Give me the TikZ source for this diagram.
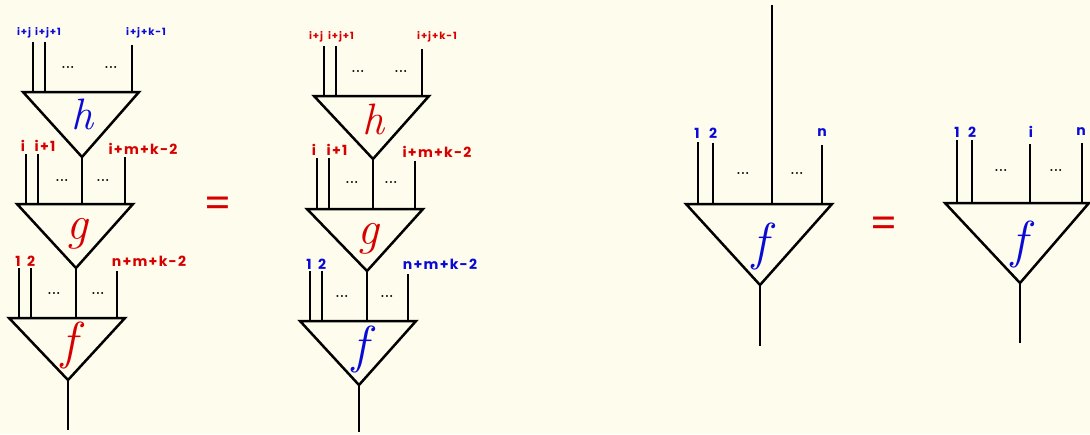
\documentclass[tikz,border=0pt]{standalone}
\usepackage{fontspec}
\newfontfamily\labfont{Poppins}[LetterSpace=9]
\definecolor{paper}{RGB}{254,252,236}
\definecolor{ink}{RGB}{0,0,0}
\definecolor{lblue}{RGB}{10,10,215}
\definecolor{lred}{RGB}{215,0,0}
\tikzset{
  edge/.style={draw=ink, line width=2.5pt, line join=miter},
  wire/.style={draw=ink, line width=2.2pt},
  lab/.style={inner sep=0pt, font=\labfont\bfseries\fontsize{14}{14}\selectfont},
  slab/.style={inner sep=0pt, font=\labfont\bfseries\fontsize{10}{10}\selectfont},
  dots/.style={inner sep=0pt, font=\bfseries\fontsize{14}{14}\selectfont},
  fname/.style={inner sep=0pt, font=\itshape\fontsize{44}{44}\selectfont},
  bigf/.style={fname, font=\itshape\fontsize{52}{52}\selectfont},
  bigg/.style={fname, font=\itshape\fontsize{48}{48}\selectfont},
  eqsign/.style={inner sep=0pt, text=lred, font=\labfont\fontsize{40}{40}\selectfont},
}
% triangle pointing down: name, left x, right x, top y, apex x, apex y
\newcommand{\mtri}[6]{%
  \coordinate (#1L) at (#2,#4);
  \coordinate (#1R) at (#3,#4);
  \coordinate (#1A) at (#5,#6);
  \path[edge] (#1L) -- (#1R) -- (#1A) -- cycle;
}
% wire: name, x, top y, bottom y
\newcommand{\mwire}[4]{%
  \coordinate (#1t) at (#2,#3);
  \coordinate (#1b) at (#2,#4);
  \path[wire] (#1t) -- (#1b);
}
\begin{document}
\begin{tikzpicture}[x=1pt,y=-1pt]
\path[fill=paper] (0,0) rectangle (1090,434);
\useasboundingbox (0,0) rectangle (1090,434);

% ---------- left-hand side: h into g into f ----------
\mtri{ah}{23}{139}{92}{82}{157}
\mtri{ag}{17}{133}{204}{76}{268}
\mtri{af}{9}{125}{318}{68}{380}
\mwire{ah1}{33}{42}{92}
\mwire{ah2}{45}{42}{92}
\mwire{ah3}{132}{45}{92}
\path[wire] (ahA) -- (82,204) coordinate (ag3b);
\mwire{ag1}{26}{154}{204}
\mwire{ag2}{38}{154}{204}
\mwire{ag4}{125}{157}{204}
\path[wire] (agA) -- (76,318) coordinate (af3b);
\mwire{af1}{19}{268}{318}
\mwire{af2}{31}{268}{318}
\mwire{af4}{117}{271}{318}
\coordinate (aout) at (68,430);
\path[wire] (afA) -- (aout);

\node[fname, text=lblue] (ahn) at (82,114) {h};
\node[bigg, text=lred] (agn) at (77,234) {g};
\node[bigf, text=lred] (afn) at (69,345) {f};

\node[slab, text=lblue] (ahl1) at (24,33) {i+j};
\node[slab, text=lblue] (ahl2) at (48,33) {i+j+1};
\node[slab, text=lblue] (ahl3) at (146,33) {i+j+k-1};
\node[lab, text=lred] (agl1) at (23,146) {i};
\node[lab, text=lred] (agl2) at (45,146) {i+1};
\node[lab, text=lred] (agl3) at (143,149) {i+m+k-2};
\node[lab, text=lred] (afl1) at (18,261) {1};
\node[lab, text=lred] (afl2) at (31,261) {2};
\node[lab, text=lred] (afl3) at (149,261) {n+m+k-2};

\node[dots] (ad1) at (68,67) {...};
\node[dots] (ad2) at (111,67) {...};
\node[dots] (ad3) at (62,180) {...};
\node[dots] (ad4) at (103,180) {...};
\node[dots] (ad5) at (54,293) {...};
\node[dots] (ad6) at (98,293) {...};

\node[eqsign] (eq1) at (218,207) {=};

% ---------- right-hand side: same tree, recoloured ----------
\mtri{bh}{314}{429}{96}{373}{159}
\mtri{bg}{307}{423}{209}{367}{271}
\mtri{bf}{300}{416}{321}{359}{385}
\mwire{bh1}{324}{46}{96}
\mwire{bh2}{336}{46}{96}
\mwire{bh3}{422}{49}{96}
\path[wire] (bhA) -- (373,209) coordinate (bg3b);
\mwire{bg1}{317}{158}{209}
\mwire{bg2}{329}{158}{209}
\mwire{bg4}{415}{161}{209}
\path[wire] (bgA) -- (367,321) coordinate (bf3b);
\mwire{bf1}{310}{271}{321}
\mwire{bf2}{322}{271}{321}
\mwire{bf4}{408}{274}{321}
\coordinate (bout) at (359,432);
\path[wire] (bfA) -- (bout);

\node[fname, text=lred] (bhn) at (373,119) {h};
\node[bigg, text=lred] (bgn) at (368,239) {g};
\node[bigf, text=lblue] (bfn) at (360,349) {f};

\node[slab, text=lred] (bhl1) at (316,37) {i+j};
\node[slab, text=lred] (bhl2) at (341,37) {i+j+1};
\node[slab, text=lred] (bhl3) at (437,37) {i+j+k-1};
\node[lab, text=lred] (bgl1) at (314,150) {i};
\node[lab, text=lred] (bgl2) at (337,150) {i+1};
\node[lab, text=lred] (bgl3) at (437,152) {i+m+k-2};
\node[lab, text=lblue] (bfl1) at (309,264) {1};
\node[lab, text=lblue] (bfl2) at (322,264) {2};
\node[lab, text=lblue] (bfl3) at (440,264) {n+m+k-2};

\node[dots] (bd1) at (358,71) {...};
\node[dots] (bd2) at (401,71) {...};
\node[dots] (bd3) at (352,182) {...};
\node[dots] (bd4) at (391,182) {...};
\node[dots] (bd5) at (342,296) {...};
\node[dots] (bd6) at (387,296) {...};

% ---------- f with a wire passing straight through ----------
\mtri{cf}{686}{832}{204}{760}{285}
\mwire{c1}{698}{142}{204}
\mwire{c2}{713}{143}{204}
\mwire{c3}{772}{5}{204}
\mwire{c4}{822}{145}{204}
\coordinate (cout) at (760,346);
\path[wire] (cfA) -- (cout);
\node[bigf, text=lblue] (cfn) at (760,246) {f};
\node[lab, text=lblue] (cl1) at (697,133) {1};
\node[lab, text=lblue] (cl2) at (713,133) {2};
\node[lab, text=lblue] (cl3) at (822,133) {n};
\node[dots] (cd1) at (743,173) {...};
\node[dots] (cd2) at (797,173) {...};

\node[eqsign] (eq2) at (884,227) {=};

% ---------- f with input i ----------
\mtri{df}{945}{1089}{203}{1020}{283}
\mwire{d1}{957}{140}{203}
\mwire{d2}{972}{140}{203}
\mwire{d3}{1030}{144}{203}
\mwire{d4}{1082}{143}{203}
\coordinate (dout) at (1020,343);
\path[wire] (dfA) -- (dout);
\node[bigf, text=lblue] (dfn) at (1019,244) {f};
\node[lab, text=lblue] (dl1) at (957,132) {1};
\node[lab, text=lblue] (dl2) at (972,132) {2};
\node[lab, text=lblue] (dl3) at (1031,132) {i};
\node[lab, text=lblue] (dl4) at (1081,132) {n};
\node[dots] (dd1) at (1001,170) {...};
\node[dots] (dd2) at (1056,170) {...};
\end{tikzpicture}
\end{document}
